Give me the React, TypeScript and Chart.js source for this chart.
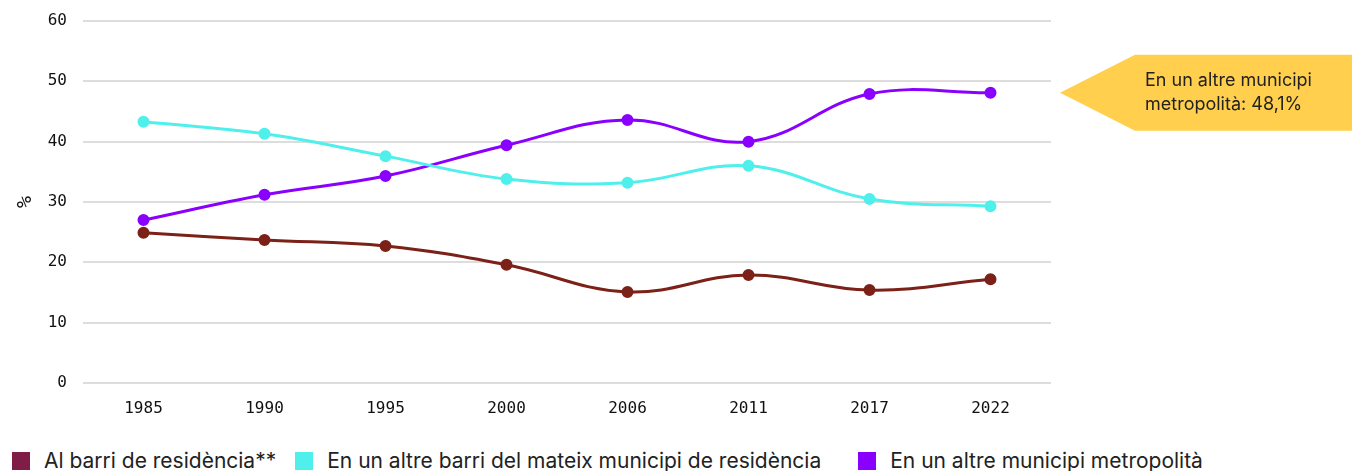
import React, { useEffect, useRef } from "react";
import { Chart, registerables } from "chart.js";

Chart.register(...registerables);

const years = ["1985", "1990", "1995", "2000", "2006", "2011", "2017", "2022"];
const barri = [24.9, 23.7, 22.7, 19.6, 15.1, 17.9, 15.4, 17.2];
const altreBarri = [43.3, 41.3, 37.6, 33.8, 33.2, 36.0, 30.5, 29.3];
const altreMunicipi = [27.0, 31.2, 34.3, 39.4, 43.6, 40.0, 47.9, 48.1];
const seriesNames = [
  "Al barri de residència**",
  "En un altre barri del mateix municipi de residència",
  "En un altre municipi metropolità",
];
const lineColors = ["#7b2118", "#4ff0ec", "#8a00ff"];
const legendColors = ["#7f1d47", "#4ff0ec", "#8a00ff"];
const calloutLines = ["En un altre municipi", "metropolità: 48,1%"];

const calloutPlugin = {
  id: "callout",
  afterDraw(chart: any) {
    const ctx = chart.ctx;
    const y = chart.scales.y.getPixelForValue(altreMunicipi[altreMunicipi.length - 1]);
    const tipX = 1060;
    const bodyX = 1135;
    const top = y - 38;
    const bottom = y + 38;
    ctx.save();
    ctx.fillStyle = "#ffcf4d";
    ctx.beginPath();
    ctx.moveTo(tipX, y);
    ctx.lineTo(bodyX, top);
    ctx.lineTo(chart.width, top);
    ctx.lineTo(chart.width, bottom);
    ctx.lineTo(bodyX, bottom);
    ctx.closePath();
    ctx.fill();
    ctx.fillStyle = "#222";
    ctx.font = "18px Inter, 'Noto Sans', sans-serif";
    ctx.textBaseline = "middle";
    ctx.textAlign = "left";
    ctx.fillText(calloutLines[0], 1145, y - 12);
    ctx.fillText(calloutLines[1], 1145, y + 12);
    ctx.restore();
  },
};

export default function App() {
  const ref = useRef<HTMLCanvasElement>(null);
  useEffect(() => {
    document.body.style.margin = "0";
    const data = [barri, altreBarri, altreMunicipi];
    const chart = new Chart(ref.current!, {
      type: "line",
      data: {
        labels: years,
        datasets: data.map((d, i) => ({
          label: seriesNames[i],
          data: d,
          borderColor: lineColors[i],
          backgroundColor: lineColors[i],
          pointBackgroundColor: lineColors[i],
          pointBorderColor: lineColors[i],
          borderWidth: 3,
          pointRadius: 4.5,
          tension: 0.4,
        })),
      },
      options: {
        animation: false,
        responsive: false,
        devicePixelRatio: 1,
        layout: { padding: { left: 0, right: 301, top: 21, bottom: 0 } },
        plugins: { legend: { display: false }, tooltip: { enabled: false } },
        scales: {
          x: {
            offset: true,
            grid: { display: false, drawTicks: false },
            border: { display: false },
            ticks: {
              color: "#111",
              padding: 16,
              font: { family: "'DejaVu Sans Mono', monospace", size: 16 },
            },
            afterFit(scale: any) {
              scale.height = 47;
              scale.paddingLeft = 0;
              scale.paddingRight = 0;
            },
          },
          y: {
            min: 0,
            max: 60,
            ticks: {
              stepSize: 10,
              color: "#111",
              padding: 16,
              font: { family: "'DejaVu Sans Mono', monospace", size: 16 },
            },
            grid: { color: "#dddddd", lineWidth: 2, drawTicks: false },
            border: { display: false },
            title: {
              display: true,
              text: "%",
              color: "#111",
              padding: { top: 14, bottom: 6 },
              font: { family: "'DejaVu Sans Mono', monospace", size: 20 },
            },
            afterFit(scale: any) {
              scale.width = 83;
              scale.paddingTop = 0;
              scale.paddingBottom = 0;
            },
          },
        },
      },
      plugins: [calloutPlugin],
    });
    return () => chart.destroy();
  }, []);
  return (
    <div style={{ width: 1352, height: 471, position: "relative", background: "#fff" }}>
      <canvas ref={ref} width={1352} height={430} style={{ display: "block" }} />
      <div
        style={{
          position: "absolute",
          top: 450,
          left: 12,
          display: "flex",
          alignItems: "center",
          fontFamily: "Inter, 'Liberation Sans', sans-serif",
          fontSize: 21,
          color: "#222",
          lineHeight: "22px",
        }}
      >
        {seriesNames.map((n, i) => (
          <div key={n} style={{ display: "flex", alignItems: "center", marginRight: i === 0 ? 19 : 37 }}>
            <span
              style={{
                display: "inline-block",
                width: 18,
                height: 18,
                background: legendColors[i],
                marginRight: 14,
              }}
            />
            <span>{n}</span>
          </div>
        ))}
      </div>
    </div>
  );
}
